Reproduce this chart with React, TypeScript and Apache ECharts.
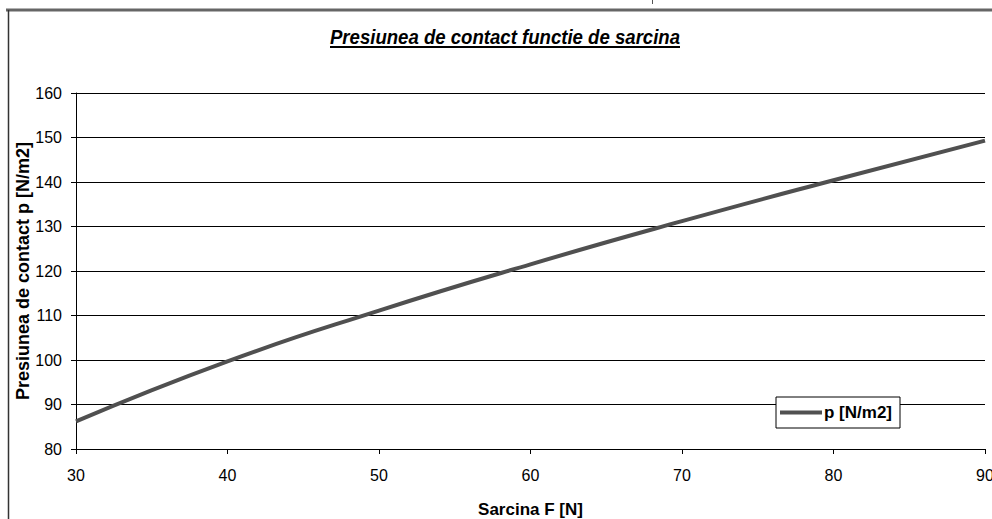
import React, { useEffect, useRef } from "react";
import * as echarts from "echarts";

const titleText = "Presiunea de contact functie de sarcina";
const xAxisName = "Sarcina F [N]";
const yAxisName = "Presiunea de contact p [N/m2]";
const seriesName = "p [N/m2]";

const loadF = [30, 40, 50, 60, 70, 80, 90];
const pressure = [86.2, 99.7, 111.1, 121.5, 131.2, 140.4, 149.3];

export default function App() {
  const ref = useRef<HTMLDivElement>(null);
  useEffect(() => {
    if (!ref.current) return;
    const chart = echarts.init(ref.current, undefined, { renderer: "svg" });
    const font = "Liberation Sans, Arial, sans-serif";
    chart.setOption({
      animation: false,
      backgroundColor: "#ffffff",
      grid: { left: 76, right: 7, top: 93, bottom: 70, containLabel: false, outerBoundsMode: "none" },
      xAxis: {
        type: "value",
        min: 30,
        max: 90,
        interval: 10,
        name: xAxisName,
        nameLocation: "middle",
        nameGap: 52,
        nameMoveOverlap: false,
        nameTextStyle: { fontFamily: font, fontWeight: "bold", fontSize: 17, color: "#000" },
        axisLine: { show: true, lineStyle: { color: "#000", width: 1 } },
        axisTick: { show: true, length: 5, lineStyle: { color: "#000" } },
        axisLabel: { fontFamily: font, fontSize: 16, color: "#000", margin: 18 },
        splitLine: { show: false },
      },
      yAxis: {
        type: "value",
        min: 80,
        max: 160,
        interval: 10,
        name: yAxisName,
        nameLocation: "middle",
        nameGap: 44,
        nameMoveOverlap: false,
        nameTextStyle: { fontFamily: font, fontWeight: "bold", fontSize: 18, color: "#000" },
        axisLine: { show: true, lineStyle: { color: "#000", width: 1 } },
        axisTick: { show: true, length: 5, lineStyle: { color: "#000" } },
        axisLabel: { fontFamily: font, fontSize: 16, color: "#000", margin: 14 },
        splitLine: { show: true, lineStyle: { color: "#000", width: 1 } },
      },
      legend: {
        left: 776,
        top: 397,
        orient: "vertical",
        backgroundColor: "#fff",
        borderColor: "#000",
        borderWidth: 1,
        padding: [7, 8, 7, 4],
        itemWidth: 42,
        itemHeight: 4,
        itemGap: 2,
        textStyle: { fontFamily: font, fontWeight: "bold", fontSize: 17, color: "#000", padding: [0, 0, 0, -3] },
        data: [{ name: seriesName, icon: "rect", itemStyle: { color: "#505050" } }],
      },
      series: [
        {
          name: seriesName,
          type: "line",
          data: loadF.map((f, i) => [f, pressure[i]]),
          smooth: true,
          symbol: "none",
          lineStyle: { color: "#505050", width: 4 },
          itemStyle: { color: "#505050" },
        },
      ],
      graphic: [
        { type: "line", shape: { x1: 6, y1: 10, x2: 992, y2: 10 }, style: { stroke: "#666", lineWidth: 3 } },
        { type: "line", shape: { x1: 8.5, y1: 10, x2: 8.5, y2: 519 }, style: { stroke: "#333", lineWidth: 1.5 } },
        { type: "line", shape: { x1: 652.5, y1: 0, x2: 652.5, y2: 4 }, style: { stroke: "#555", lineWidth: 1 } },
        {
          type: "text",
          x: 505,
          y: 37,
          scaleX: 0.93,
          style: {
            text: titleText,
            fontFamily: font,
            fontWeight: "bold",
            fontStyle: "italic",
            fontSize: 20,
            fill: "#000",
            textAlign: "center",
            textVerticalAlign: "middle",
          },
        },
        { type: "line", shape: { x1: 330, y1: 47, x2: 680, y2: 47 }, style: { stroke: "#000", lineWidth: 2 } },
      ],
    });
    return () => chart.dispose();
  }, []);
  return (
    <div
      ref={ref}
      style={{ position: "fixed", left: 0, top: 0, width: 992, height: 519 }}
    />
  );
}
